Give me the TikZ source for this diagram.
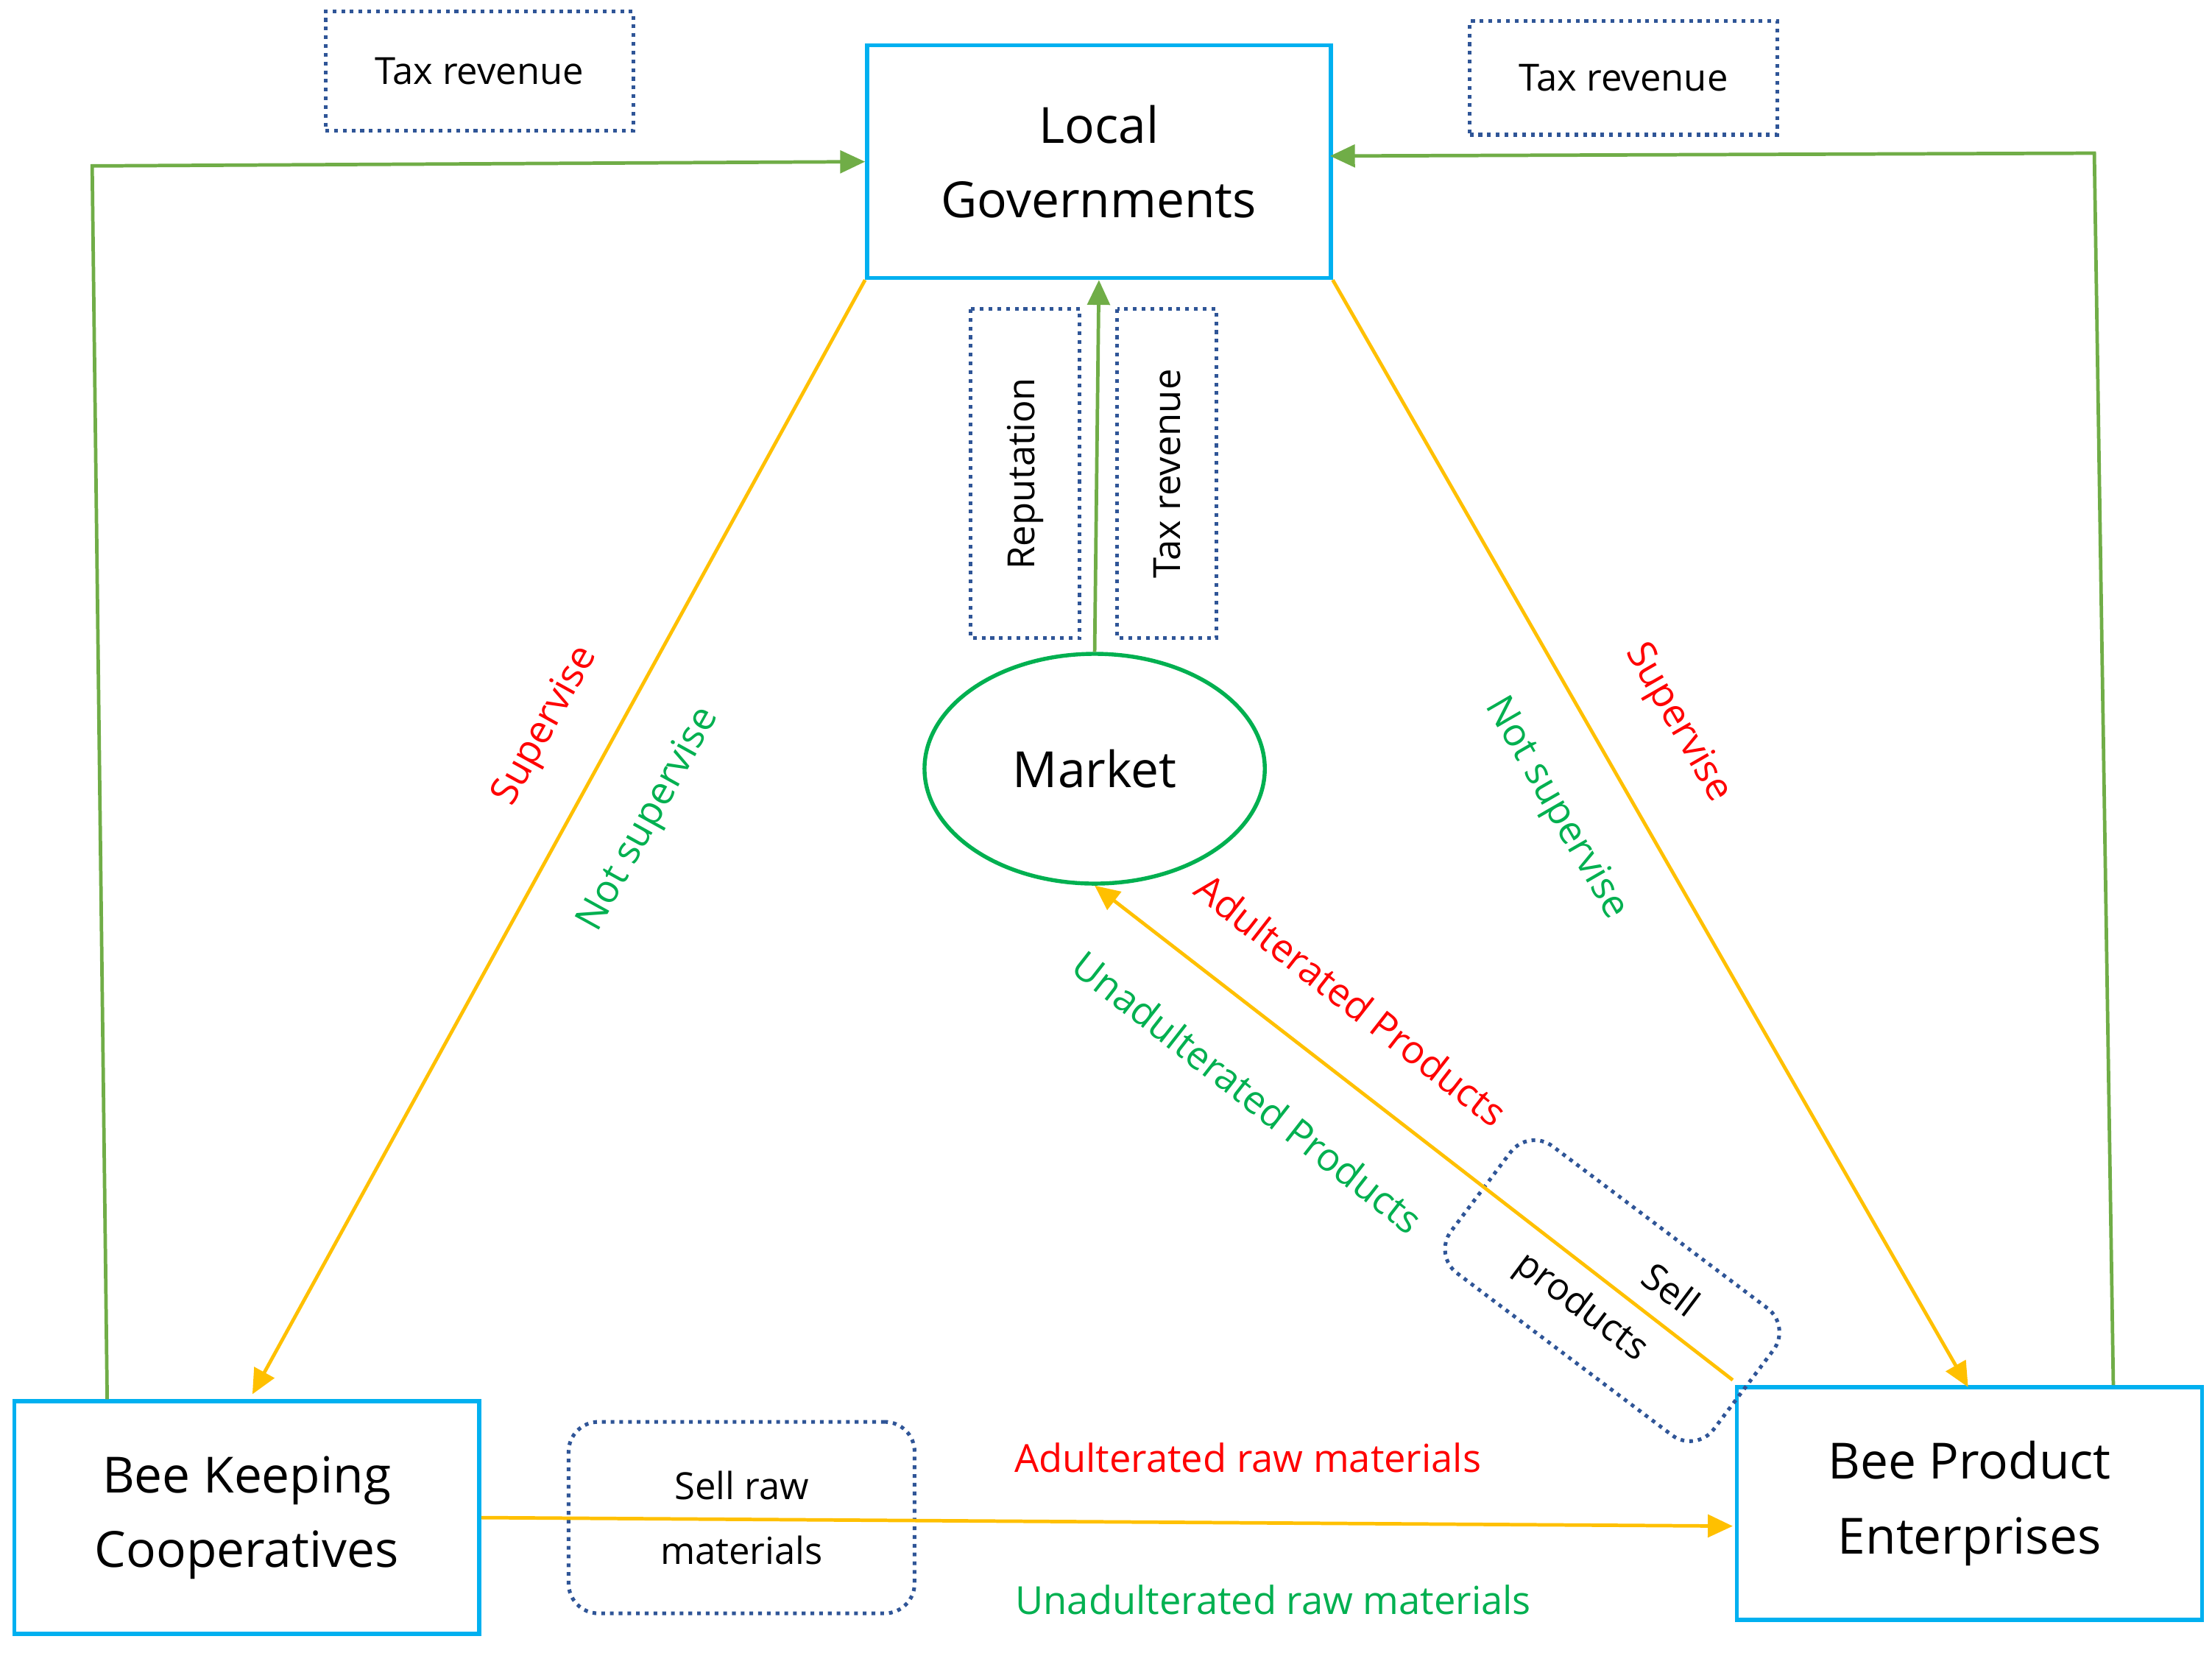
\documentclass[tikz,border=0pt]{standalone}
\usepackage{fontspec}
\setmainfont{Open Sans}
\usetikzlibrary{arrows.meta,shapes.geometric}
\definecolor{bbox}{RGB}{0,176,240}
\definecolor{dbox}{RGB}{47,85,151}
\definecolor{yel}{RGB}{255,192,0}
\definecolor{gline}{RGB}{112,173,71}
\definecolor{gtxt}{RGB}{0,176,80}
\begin{document}
\begin{tikzpicture}[x=0.02cm,y=-0.02cm,
 main/.style={draw=bbox,line width=1.6pt,font=\fontsize{20}{30}\selectfont,align=center,inner sep=0pt},
 dot/.style={draw=dbox,dotted,line width=1.5pt,font=\fontsize{15}{22}\selectfont,align=center,inner sep=0pt},
 yarr/.style={draw=yel,line width=1.4pt,-{Triangle[length=10pt,width=9pt]}},
 garr/.style={draw=gline,line width=1.4pt,-{Triangle[length=10pt,width=9pt]}},
 lab/.style={font=\fontsize{15.5}{18}\selectfont}]
\useasboundingbox (0,0) rectangle (1560,1165);
\node[main,minimum width=327*0.02cm,minimum height=164*0.02cm] (lg) at (775,114) {Local\\Governments};
\node[main,minimum width=328*0.02cm,minimum height=164*0.02cm] (bkc) at (174,1070) {Bee Keeping\\Cooperatives};
\node[main,minimum width=328*0.02cm,minimum height=164*0.02cm] (bpe) at (1389,1060) {Bee Product\\Enterprises};
\node[draw=gtxt,line width=1.6pt,ellipse,minimum width=240*0.02cm,minimum height=162*0.02cm,font=\fontsize{20}{24}\selectfont] (mk) at (772,542) {Market};
\node[dot,minimum width=217*0.02cm,minimum height=84*0.02cm] (t1) at (338,50) {Tax revenue};
\node[dot,minimum width=217*0.02cm,minimum height=80*0.02cm] (t2) at (1145,55) {Tax revenue};
\node[dot,rotate=90,minimum width=232*0.02cm,minimum height=77*0.02cm] (rep) at (723,334) {Reputation};
\node[dot,rotate=90,minimum width=232*0.02cm,minimum height=70*0.02cm] (t3) at (823,334) {Tax revenue};
\node[dot,rounded corners=12pt,minimum width=244*0.02cm,minimum height=135*0.02cm] (srm) at (523,1070) {Sell raw\\[4pt]materials};
\node[dot,rounded corners=12pt,rotate=-37,minimum width=232*0.02cm,minimum height=112*0.02cm] (sp) at (1137,910) {\hspace*{2.5em}Sell\\[4pt]products\hspace*{0.8em}};
\coordinate (a1) at (65,117);
\coordinate (a2) at (1477,108);
\draw[garr] (bkc.north west) ++(67,0) -- (a1) -- (lg.west);
\draw[garr] (bpe.north east) ++(-64,0) -- (a2) -- (938,110);
\draw[garr] (mk.north) -- (lg.south);
\draw[yarr] (lg.south west) -- (178,983);
\draw[yarr] (lg.south east) -- (1388,978);
\draw[yarr] (1222,973) -- (mk.south);
\draw[yarr] (bkc.east) -- (1222,1076);
\node[lab,text=red,rotate=61] at (385,512) {Supervise};
\node[lab,text=gtxt,rotate=61] at (458,578) {Not supervise};
\node[lab,text=red,rotate=-60] at (1183,510) {Supervise};
\node[lab,text=gtxt,rotate=-60] at (1097,570) {Not supervise};
\node[lab,text=red,rotate=-38] at (953,705) {Adulterated Products};
\node[lab,text=gtxt,rotate=-38] at (880,770) {Unadulterated Products};
\node[lab,text=red] at (880,1028) {Adulterated raw materials};
\node[lab,text=gtxt] at (898,1128) {Unadulterated raw materials};
\end{tikzpicture}
\end{document}
